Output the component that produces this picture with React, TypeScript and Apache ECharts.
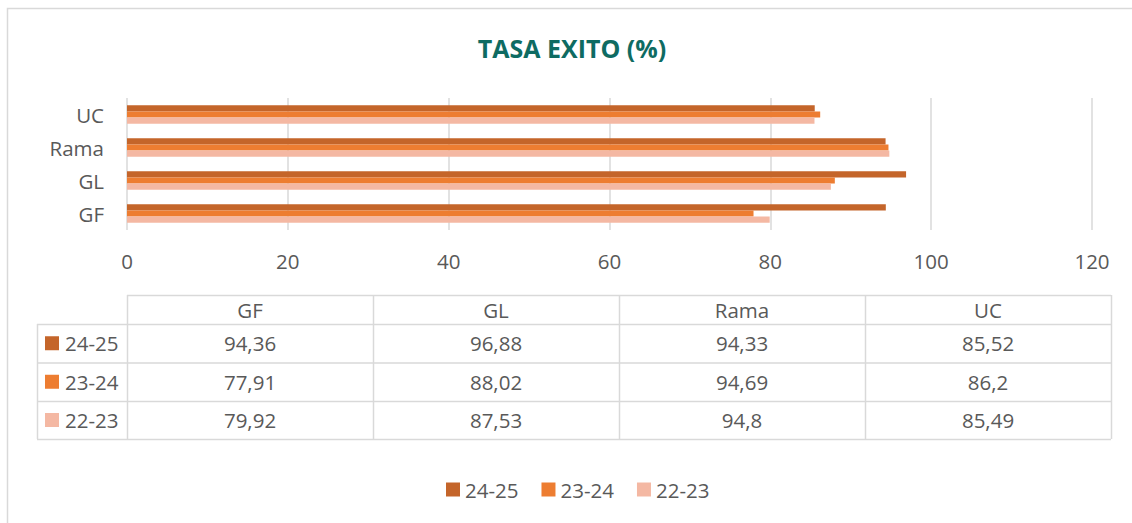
import React, { useEffect, useRef } from "react";
import * as echarts from "echarts";

const categories = ["GF", "GL", "Rama", "UC"];
const seriesNames = ["24-25", "23-24", "22-23"];
const values2425 = [94.36, 96.88, 94.33, 85.52];
const values2324 = [77.91, 88.02, 94.69, 86.2];
const values2223 = [79.92, 87.53, 94.8, 85.49];
const xTicks = [0, 20, 40, 60, 80, 100, 120];
const colors = ["#C4652A", "#ED7D31", "#F4B8A3"];

const FONT = "'Open Sans', 'Noto Sans', sans-serif";
const TEXT = "#595959";
const LINE = "#D9D9D9";

export default function App() {
  const ref = useRef<HTMLDivElement>(null);
  useEffect(() => {
    if (!ref.current) return;
    const chart = echarts.init(ref.current, undefined, { renderer: "svg" });
    const allValues = [values2425, values2324, values2223];

    // Table geometry
    const colX = [37, 127, 373, 619, 865, 1111];
    const rowY = [295, 324, 362.5, 401, 439];
    const elements: any[] = [];
    const hline = (x1: number, x2: number, y: number) =>
      elements.push({
        type: "line",
        shape: { x1, y1: y + 0.5, x2, y2: y + 0.5 },
        style: { stroke: LINE, lineWidth: 1.5 },
        silent: true,
      });
    const vline = (x: number, y1: number, y2: number) =>
      elements.push({
        type: "line",
        shape: { x1: x + 0.5, y1, x2: x + 0.5, y2 },
        style: { stroke: LINE, lineWidth: 1.5 },
        silent: true,
      });
    hline(colX[1], colX[5], rowY[0]);
    for (let r = 1; r < rowY.length; r++) hline(colX[0], colX[5], rowY[r]);
    vline(colX[0], rowY[1], rowY[4]);
    for (let c = 1; c < colX.length; c++) vline(colX[c], rowY[0], rowY[4]);

    categories.forEach((cat, ci) => {
      const cx = (colX[ci + 1] + colX[ci + 2]) / 2;
      elements.push({
        type: "text",
        x: cx,
        y: (rowY[0] + rowY[1]) / 2,
        style: {
          text: cat,
          fill: TEXT,
          font: `20.5px ${FONT}`,
          align: "center",
          verticalAlign: "middle",
        },
        silent: true,
      });
      seriesNames.forEach((_, si) => {
        elements.push({
          type: "text",
          x: cx,
          y: (rowY[si + 1] + rowY[si + 2]) / 2,
          style: {
            text: String(allValues[si][ci]).replace(".", ","),
            fill: TEXT,
            font: `20.5px ${FONT}`,
            align: "center",
            verticalAlign: "middle",
          },
          silent: true,
        });
      });
    });
    seriesNames.forEach((name, si) => {
      const cy = (rowY[si + 1] + rowY[si + 2]) / 2;
      elements.push({
        type: "rect",
        shape: { x: 45, y: cy - 7, width: 14, height: 14 },
        style: { fill: colors[si] },
        silent: true,
      });
      elements.push({
        type: "text",
        x: 65,
        y: cy,
        style: {
          text: name,
          fill: TEXT,
          font: `20.5px ${FONT}`,
          align: "left",
          verticalAlign: "middle",
        },
        silent: true,
      });
    });
    elements.push({
      type: "rect",
      shape: { x: 7.5, y: 8.5, width: 1130, height: 600 },
      style: { fill: "none", stroke: LINE, lineWidth: 1.5 },
      silent: true,
    });

    chart.setOption({
      animation: false,
      backgroundColor: "#fff",
      color: colors,
      textStyle: { fontFamily: FONT },
      title: {
        text: "TASA EXITO (%)",
        left: 567,
        textAlign: "center",
        top: 30,
        textStyle: {
          color: "#0E6B62",
          fontSize: 25,
          fontWeight: "bold",
          fontFamily: FONT,
        },
      },
      legend: {
        data: seriesNames,
        left: 446,
        top: 479,
        padding: 0,
        itemWidth: 14,
        itemHeight: 14,
        itemGap: 23,
        icon: "rect",
        textStyle: { color: TEXT, fontSize: 20.5, fontFamily: FONT },
      },
      grid: { left: 127, right: 40, top: 98, bottom: 293, containLabel: false },
      xAxis: {
        type: "value",
        min: xTicks[0],
        max: xTicks[xTicks.length - 1],
        interval: 20,
        axisLine: { show: false },
        axisTick: { show: false },
        splitLine: { show: true, lineStyle: { color: LINE, width: 1.5 } },
        axisLabel: { color: TEXT, fontSize: 20.5, margin: 20, fontFamily: FONT },
      },
      yAxis: {
        type: "category",
        data: categories,
        axisLine: { show: false },
        axisTick: { show: false },
        axisLabel: { color: TEXT, fontSize: 20.5, margin: 23, fontFamily: FONT },
      },
      series: seriesNames.map((name, si) => ({
        name,
        type: "bar",
        data: allValues[si],
        barGap: "0%",
        barCategoryGap: "44%",
        itemStyle: { color: colors[si] },
      })),
      graphic: elements,
    });
    return () => chart.dispose();
  }, []);
  return (
    <div
      ref={ref}
      style={{ position: "absolute", left: 0, top: 0, width: 1132, height: 523 }}
    />
  );
}
